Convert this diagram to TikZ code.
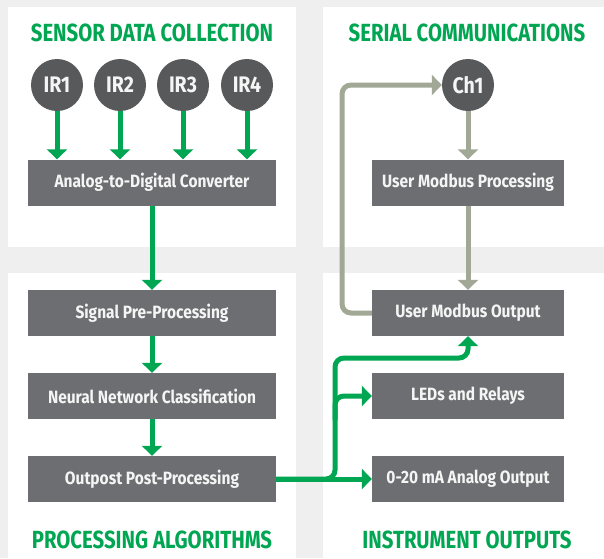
\documentclass[tikz,border=0pt]{standalone}
\usepackage{fontspec}
\setmainfont{Fira Sans}[FakeStretch=0.8]
\newfontfamily\titlefont{Fira Sans}[FakeStretch=0.82]
\newfontfamily\boxfont{Fira Sans}[FakeStretch=0.87]
\usetikzlibrary{arrows.meta}
\definecolor{bgc}{RGB}{239,239,239}
\definecolor{gr}{RGB}{0,166,81}
\definecolor{boxc}{RGB}{109,110,113}
\definecolor{circc}{RGB}{88,89,91}
\definecolor{sage}{RGB}{161,169,150}
\definecolor{txtc}{RGB}{245,245,245}
\tikzset{
  panel/.style={fill=white, draw=none},
  title/.style={text=gr, font=\titlefont\bfseries\fontsize{24.8}{24.8}\selectfont, inner sep=0},
  stepbox/.style={fill=boxc, text=txtc, minimum width=248pt, minimum height=46pt, inner sep=0, font=\boxfont\bfseries\fontsize{17.8}{17.8}\selectfont},
  rbox/.style={stepbox, minimum width=192pt},
  sensor/.style={circle, fill=circc, text=txtc, minimum size=52pt, inner sep=0, font=\boxfont\bfseries\fontsize{22.5}{22.5}\selectfont},
  garrow/.style={draw=gr, line width=5pt, -{Triangle[length=10pt,width=20pt]}},
  sarrow/.style={draw=sage, line width=5pt, -{Triangle[length=10pt,width=20pt]}},
}
\begin{document}
\begin{tikzpicture}[x=1pt, y=-1pt]
\fill[bgc] (0,0) rectangle (604,558);
\useasboundingbox (0,0) rectangle (604,558);
% panels
\fill[panel] (8,7) rectangle (296,247);
\fill[panel] (323,7) rectangle (604,247);
\fill[panel] (8,273) rectangle (296,558);
\fill[panel] (323,273) rectangle (604,558);
% titles
\node[title] (t1) at (152,33) {SENSOR DATA COLLECTION};
\node[title] (t2) at (467,33) {SERIAL COMMUNICATIONS};
\node[title] (t3) at (152,540) {PROCESSING ALGORITHMS};
\node[title] (t4) at (467,540) {INSTRUMENT OUTPUTS};
% sensors
\node[sensor] (ir1) at (57,85) {IR1};
\node[sensor] (ir2) at (120,85) {IR2};
\node[sensor] (ir3) at (183,85) {IR3};
\node[sensor] (ir4) at (247,85) {IR4};
\node[sensor] (ch1) at (468,85) {Ch1};
% boxes
\node[stepbox] (adc) at (152,182.5) {Analog-to-Digital Converter};
\node[stepbox] (spp) at (152,313) {Signal Pre-Processing};
\node[stepbox] (nnc) at (152,396) {Neural Network Classification};
\node[stepbox] (opp) at (152,479) {Outpost Post-Processing};
\node[rbox] (ump) at (468,182.5) {User Modbus Processing};
\node[rbox] (umo) at (468,313) {User Modbus Output};
\node[rbox] (led) at (468,396) {LEDs and Relays};
\node[rbox] (ao) at (468,479) {0-20 mA Analog Output};
% green arrows
\foreach \s in {ir1,ir2,ir3,ir4}{
  \draw[garrow] (\s.south) -- (\s.south |- adc.north);
}
\draw[garrow] (adc.south) -- (spp.north);
\draw[garrow] (spp.south) -- (nnc.north);
\draw[garrow] (nnc.south) -- (opp.north);
\coordinate (gv) at (335,358);
\coordinate (gb) at (335,420);
\draw[garrow] (opp.east) -- (ao.west);
\draw[garrow, rounded corners=9pt] (opp.east) -| (gv) -| (umo.south);
\draw[garrow, rounded corners=9pt] (gb) |- (led.west);
% sage arrows
\coordinate (lp) at (342,85);
\draw[sarrow] (ch1.south) -- (ump.north);
\draw[sarrow] (ump.south) -- (umo.north);
\draw[sarrow, rounded corners=9pt] (umo.west) -| (lp) -- (ch1.west);
\end{tikzpicture}
\end{document}
